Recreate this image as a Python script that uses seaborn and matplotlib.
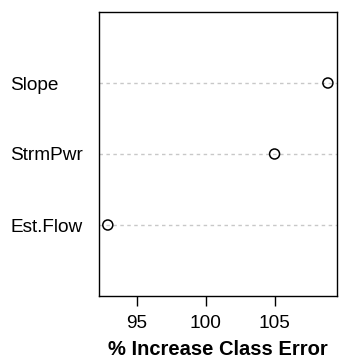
import matplotlib
matplotlib.use("Agg")
import matplotlib.pyplot as plt
import seaborn as sns
import pandas as pd

variables = ["Est.Flow", "StrmPwr", "Slope"]
importance = [92.9, 105.0, 108.87]
xticks = [95, 100, 105]
xlabel = "% Increase Class Error"

sns.set_style("white")
plt.rcParams['font.family'] = ['Liberation Sans', 'DejaVu Sans']
plt.rcParams['text.color'] = 'black'
plt.rcParams['axes.labelcolor'] = 'black'
plt.rcParams['xtick.color'] = 'black'
plt.rcParams['ytick.color'] = 'black'
plt.rcParams['xtick.bottom'] = True
plt.rcParams['xtick.major.size'] = 7
plt.rcParams['xtick.major.width'] = 1
plt.rcParams['xtick.direction'] = 'out'

df = pd.DataFrame({"var": variables, "imp": importance})
df["pos"] = range(1, len(df) + 1)

fig = plt.figure(figsize=(3.39, 3.64), dpi=100)
ax = fig.add_axes([99/339, 1 - 296/364, (336.7 - 99)/339, (296 - 12)/364])

xmin, xmax = min(importance), max(importance)
pad = 0.04 * (xmax - xmin)
ax.set_xlim(xmin - pad, xmax + pad)
ax.set_ylim(0, len(variables) + 1)

ax.hlines(df["pos"], xmin - pad, xmax + pad, colors="#c8c8c8",
          linestyles=(0, (2.5, 2.5)), linewidth=1, zorder=1)

sns.scatterplot(data=df, x="imp", y="pos", ax=ax, s=52, marker="o",
                facecolor="none", edgecolor="black", linewidth=1.1, zorder=3,
                legend=False)

ax.set_yticks(df["pos"])
ax.set_yticklabels(df["var"], fontsize=13.7, ha="left", color="black")
ax.tick_params(axis="y", length=0, pad=64)
ax.set_xticks(xticks)
ax.set_xticklabels([str(t) for t in xticks], fontsize=13.7, color="black")
ax.tick_params(axis="x", which="major", direction="out", length=7, width=1,
               pad=6.5, color="black", bottom=True)
ax.set_xlabel(xlabel, fontsize=14.5, fontweight="bold", labelpad=6, color="black")
ax.set_ylabel("")

for s in ax.spines.values():
    s.set_visible(True)
    s.set_color("black")
    s.set_linewidth(1)

fig.savefig("out.png", dpi=100)
